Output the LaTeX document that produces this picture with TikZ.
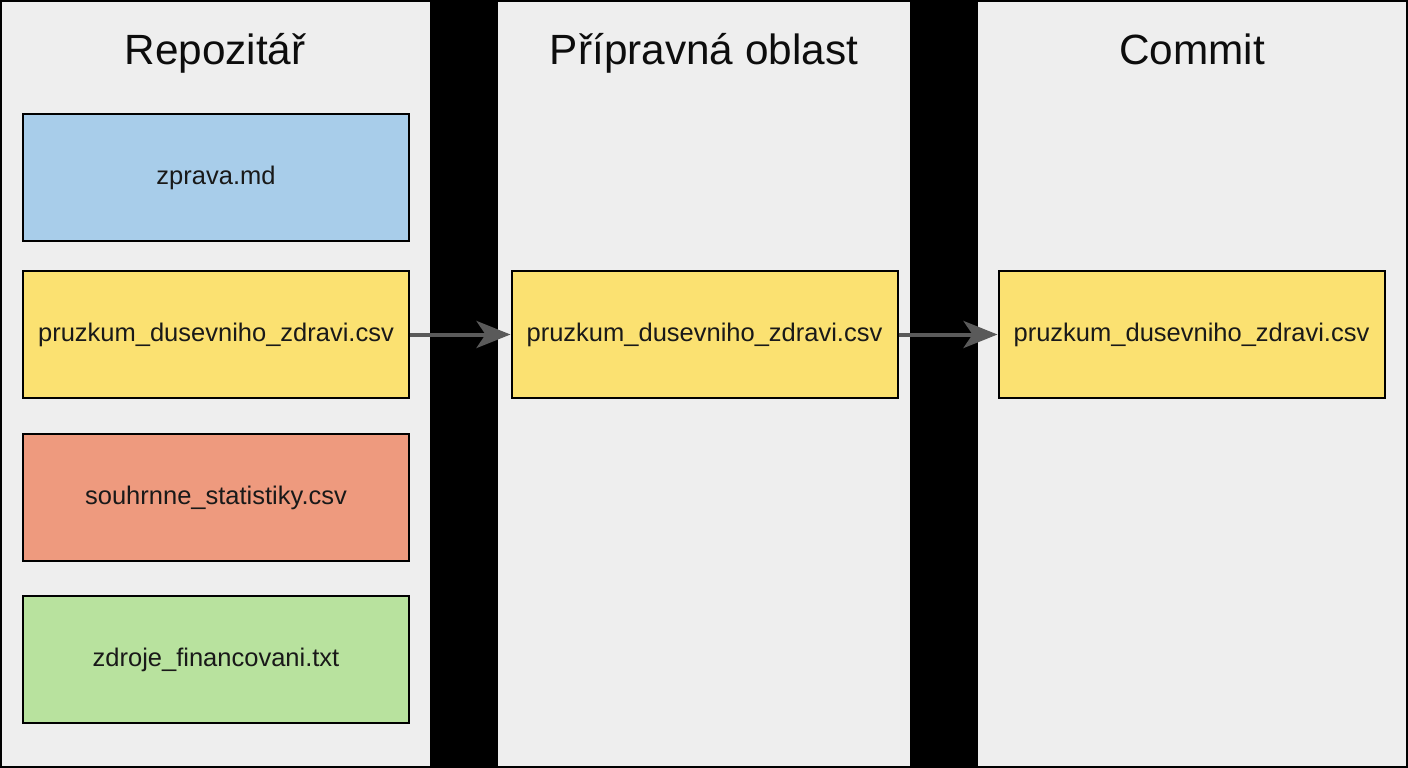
\documentclass[tikz,border=0pt]{standalone}
\usepackage{fontspec}
\setmainfont{Liberation Sans}
\usetikzlibrary{arrows.meta}
\definecolor{panelbg}{HTML}{EEEEEE}
\definecolor{fblue}{HTML}{A8CDEA}
\definecolor{fyellow}{HTML}{FBE171}
\definecolor{fred}{HTML}{EE9A7E}
\definecolor{fgreen}{HTML}{B8E29E}
\definecolor{arrowgray}{HTML}{5A5A5A}
\tikzset{
  filebox/.style={draw=black, line width=2pt, minimum width=386pt, minimum height=127pt, inner sep=0pt, font=\fontsize{25.5}{31}\selectfont, text=black!90},
  paneltitle/.style={font=\fontsize{42.3}{50}\selectfont, text=black!95, inner sep=0pt, anchor=base},
  flow/.style={draw=arrowgray, line width=4pt, -{Stealth[length=34pt, width=27pt, inset=9pt]}}
}
\begin{document}
\begin{tikzpicture}[x=1pt, y=-1pt]
\useasboundingbox (0,0) rectangle (1408,768);
\fill[black] (0,0) rectangle (1408,768);
\fill[panelbg] (2,2) rectangle (430,766);
\fill[panelbg] (498,2) rectangle (910,766);
\fill[panelbg] (978,2) rectangle (1406,766);
\node[paneltitle] (t1) at (215,65) {Repozitář};
\node[paneltitle] (t2) at (704,65) {Přípravná oblast};
\node[paneltitle] (t3) at (1192,65) {Commit};
\node[filebox, fill=fblue] (a) at (216,177.5) {zprava.md};
\node[filebox, fill=fyellow] (b) at (216,334.5) {pruzkum\_dusevniho\_zdravi.csv};
\node[filebox, fill=fred] (c) at (216,497.5) {souhrnne\_statistiky.csv};
\node[filebox, fill=fgreen] (d) at (216,659.5) {zdroje\_financovani.txt};
\node[filebox, fill=fyellow] (s) at (704.5,334.5) {pruzkum\_dusevniho\_zdravi.csv};
\node[filebox, fill=fyellow] (m) at (1191.5,334.5) {pruzkum\_dusevniho\_zdravi.csv};
\draw[flow] (b.east) -- (s.west);
\draw[flow] (s.east) -- (m.west);
\end{tikzpicture}
\end{document}
